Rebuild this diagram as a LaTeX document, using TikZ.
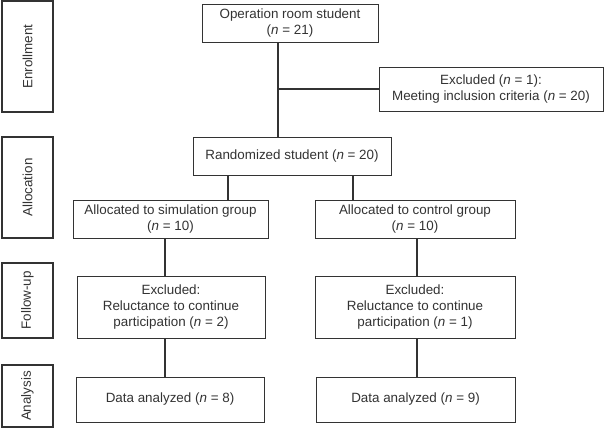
\documentclass[tikz,border=0pt]{standalone}
\usepackage{fontspec}
\setmainfont{Liberation Sans}
\definecolor{ink}{HTML}{333333}
\tikzset{
  every node/.style={font=\fontsize{13.4}{16.2}\selectfont, text=ink},
  box/.style={draw=ink, line width=0.9pt, align=center, inner sep=0pt, fill=white},
  side/.style={draw=ink, line width=1.6pt, inner sep=0pt, minimum width=51pt},
  conn/.style={draw=ink, line width=1.2pt},
}
\begin{document}
\begin{tikzpicture}[x=1pt, y=-1pt]
\useasboundingbox (0,0) rectangle (606,428);
% side labels
\node[side, minimum height=111pt] (enr) at (27.5,56.5) {};
\node[rotate=90] at (enr.center) {Enrollment};
\node[side, minimum height=101pt] (alc) at (27.5,187.5) {};
\node[rotate=90] at (alc.center) {Allocation};
\node[side, minimum height=75pt] (fup) at (27.5,300.5) {};
\node[rotate=90] at (fup.center) {Follow-up};
\node[side, minimum height=62pt] (ana) at (27.5,396) {};
\node[rotate=90] at (ana.center) {Analysis};
% main boxes
\node[box, minimum width=176pt, minimum height=38pt] (op) at (290,23) {Operation room student\\(\textit{n} = 21)};
\node[box, minimum width=224pt, minimum height=44pt] (excl) at (491,89) {Excluded (\textit{n} = 1):\\Meeting inclusion criteria (\textit{n} = 20)};
\node[box, minimum width=198pt, minimum height=38pt] (rand) at (292,156) {Randomized student (\textit{n} = 20)};
\node[box, minimum width=195pt, minimum height=38pt] (simA) at (170.5,219) {Allocated to simulation group\\(\textit{n} = 10)};
\node[box, minimum width=200pt, minimum height=38pt] (ctlA) at (415,219) {Allocated to control group\\(\textit{n} = 10)};
\node[box, minimum width=188pt, minimum height=62pt] (simF) at (171,307) {Excluded:\\Reluctance to continue\\participation (\textit{n} = 2)};
\node[box, minimum width=200pt, minimum height=62pt] (ctlF) at (415,307) {Excluded:\\Reluctance to continue\\participation (\textit{n} = 1)};
\node[box, minimum width=188pt, minimum height=45pt] (simD) at (170,399.5) {Data analyzed (\textit{n} = 8)};
\node[box, minimum width=199pt, minimum height=45pt] (ctlD) at (415.5,399.5) {Data analyzed (\textit{n} = 9)};
% connector x positions
\coordinate (spine) at (278,0);
\coordinate (lx) at (228,0);
\coordinate (rx) at (353,0);
\coordinate (sx) at (165,0);
\coordinate (cx) at (417,0);
% connectors
\draw[conn] (op.south -| spine) -- (rand.north -| spine);
\draw[conn] (spine |- excl.west) -- (excl.west);
\draw[conn] (rand.south -| lx) -- (simA.north -| lx);
\draw[conn] (rand.south -| rx) -- (ctlA.north -| rx);
\draw[conn] (simA.south -| sx) -- (simF.north -| sx);
\draw[conn] (ctlA.south -| cx) -- (ctlF.north -| cx);
\draw[conn] (simF.south -| sx) -- (simD.north -| sx);
\draw[conn] (ctlF.south -| cx) -- (ctlD.north -| cx);
\end{tikzpicture}
\end{document}
